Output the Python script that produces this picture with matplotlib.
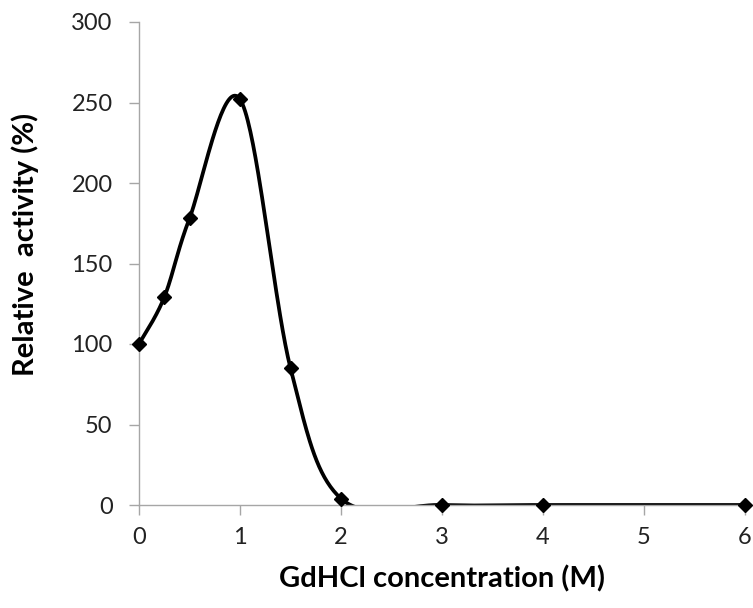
import numpy as np
import matplotlib
matplotlib.use('Agg')
from matplotlib import pyplot as plt

# GdHCl concentration (M) and relative activity (%)
conc = [0, 0.25, 0.5, 1, 1.5, 2, 3, 4, 6]
activity = [100, 129, 178, 252, 85, 4, 0, 0, 0]
xticks = [0, 1, 2, 3, 4, 5, 6]
yticks = [0, 50, 100, 150, 200, 250, 300]


def smooth(x, y, n=40):
    # excel-like smoothed line: cubic bezier through points, catmull-rom controls
    x = np.asarray(x, float)
    y = np.asarray(y, float)
    px = np.concatenate([[x[0]], x, [x[-1]]])
    py = np.concatenate([[y[0]], y, [y[-1]]])
    t = np.linspace(0, 1, n)[:, None]
    xs, ys = [], []
    for i in range(1, len(px) - 2):
        p0 = np.array([px[i], py[i]])
        p3 = np.array([px[i + 1], py[i + 1]])
        p1 = p0 + (p3 - np.array([px[i - 1], py[i - 1]])) / 6
        p2 = p3 - (np.array([px[i + 2], py[i + 2]]) - p0) / 6
        b = ((1 - t) ** 3) * p0 + 3 * ((1 - t) ** 2) * t * p1 + 3 * (1 - t) * t ** 2 * p2 + t ** 3 * p3
        xs.append(b[:, 0])
        ys.append(b[:, 1])
    return np.concatenate(xs), np.concatenate(ys)


plt.rcParams['font.family'] = ['Lato', 'DejaVu Sans']

fig = plt.figure(figsize=(7.53, 6.08), dpi=100)
ax = fig.add_axes([139 / 753, 1 - 505 / 608, (745 - 139) / 753, (505 - 22) / 608])

sx, sy = smooth(conc, activity)
ax.plot(sx, sy, color='black', lw=2.7, solid_capstyle='round')
ax.plot(conc, activity, 'D', color='black', markersize=7, clip_on=False, zorder=5)

ax.set_xlim(0, 6)
ax.set_ylim(0, 300)
ax.set_xticks(xticks)
ax.set_yticks(yticks)

for s in ['top', 'right']:
    ax.spines[s].set_visible(False)
for s in ['left', 'bottom']:
    ax.spines[s].set_color('#a6a6a6')
    ax.spines[s].set_linewidth(1.0)

ax.tick_params(axis='both', colors='#a6a6a6', labelcolor='#222222', labelsize=17, length=7, width=1.0)
ax.tick_params(axis='y', pad=12)
ax.tick_params(axis='x', pad=9)

ax.set_xlabel('GdHCl concentration (M)', fontsize=21, fontweight='bold', labelpad=12)
ax.set_ylabel('Relative  activity (%)', fontsize=21, fontweight='bold')
ax.yaxis.set_label_coords(-0.165, 0.54)

fig.savefig('out.png', dpi=100)
